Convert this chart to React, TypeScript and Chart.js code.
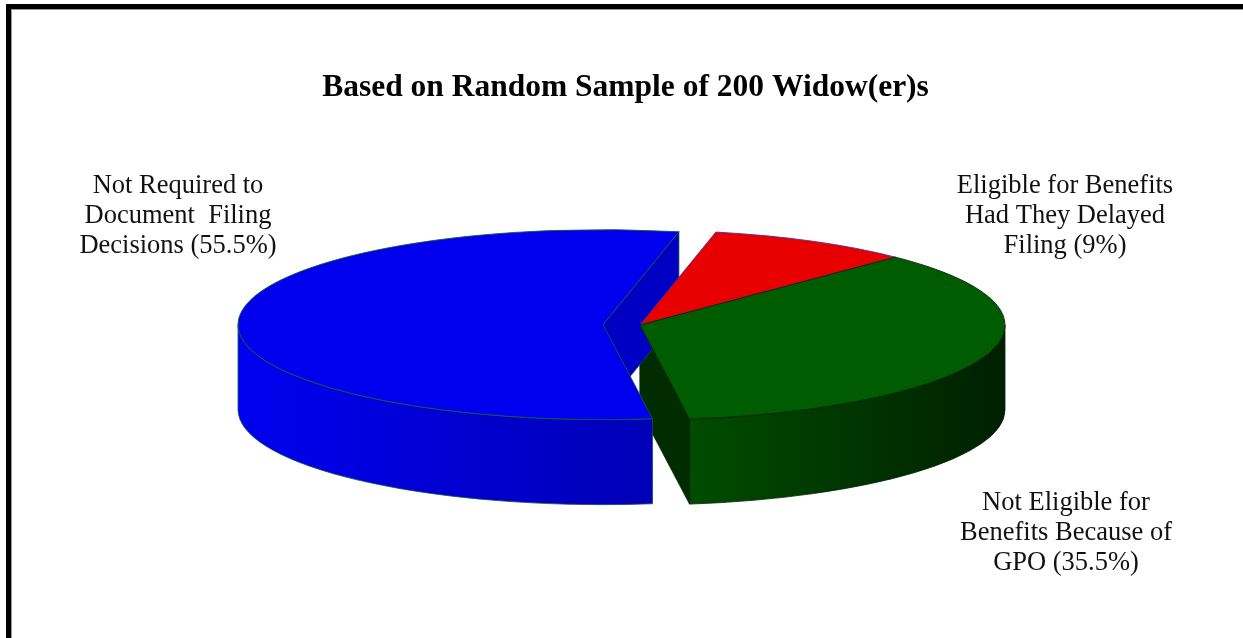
import React, { useEffect, useRef } from "react";
import { Chart, registerables } from "chart.js";

Chart.register(...registerables);

// ---------- data ----------
const categories = [
  "Eligible for Benefits Had They Delayed Filing",
  "Not Eligible for Benefits Because of GPO",
  "Not Required to Document Filing Decisions",
];
const shares = [9, 35.5, 55.5];
const labelLines = [
  ["Eligible for Benefits", "Had They Delayed", "Filing"],
  ["Not Eligible for", "Benefits Because of", "GPO"],
  ["Not Required to", "Document  Filing", "Decisions"],
];
const TITLE = "Based on Random Sample of 200 Widow(er)s";

// ---------- styles ----------
const topColors = ["#e80000", "#005c00", "#0000ee"];
const cutColors = ["#a00000", "#002c00", "#0000c4"];
const sideLight = ["#c00000", "#004c00", "#0000f0"];
const sideDark = ["#800000", "#002000", "#0000b6"];
const edgeColors = ["#5a2a8a", "#0a220a", "#17563c"];
const explode = [0, 0, 37];

// ---------- layout ----------
const PIE_CX = 640;
const PIE_CY = 325;
const RX = 365;
const RY = 95;
const DEPTH = 85;
const LABEL_POS = [
  { x: 1065, y: 193 },
  { x: 1066, y: 510 },
  { x: 178, y: 193 },
];
const LINE_H = 30;
const SERIF = "'Liberation Serif', 'Times New Roman', serif";

function strokeDevice(chart: any, color: string, w: number) {
  const ctx = chart.ctx as CanvasRenderingContext2D;
  const dpr = chart.currentDevicePixelRatio || 1;
  ctx.save();
  ctx.setTransform(dpr, 0, 0, dpr, 0, 0);
  ctx.strokeStyle = color;
  ctx.lineWidth = w;
  ctx.lineJoin = "round";
  ctx.stroke();
  ctx.restore();
}

const pie3d = {
  id: "pie3d",
  beforeDatasetsDraw(chart: any) {
    const meta = chart.getDatasetMeta(0);
    const arcs = meta.data as any[];
    if (!arcs.length) return false;
    const ctx = chart.ctx as CanvasRenderingContext2D;
    const R = arcs[0].outerRadius;
    const x0 = arcs[0].x;
    const y0 = arcs[0].y;
    const sx = RX / R;
    const sy = RY / R;
    const D = DEPTH / sy;
    const geo = arcs.map((a: any, i: number) => {
      const s = a.startAngle;
      const e = a.endAngle;
      const m = (s + e) / 2;
      const off = explode[i] / sx;
      return { a, s, e, i, cx: x0 + Math.cos(m) * off, cy: y0 + Math.sin(m) * off };
    });

    ctx.save();
    ctx.translate(PIE_CX, PIE_CY);
    ctx.scale(sx, sy);
    ctx.translate(-x0, -y0);

    // radial cut faces facing the viewer
    const face = (cx: number, cy: number, ang: number, i: number) => {
      const px = cx + R * Math.cos(ang);
      const py = cy + R * Math.sin(ang);
      ctx.beginPath();
      ctx.moveTo(cx, cy);
      ctx.lineTo(px, py);
      ctx.lineTo(px, py + D);
      ctx.lineTo(cx, cy + D);
      ctx.closePath();
      ctx.fillStyle = cutColors[i];
      ctx.fill();
      strokeDevice(chart, edgeColors[i], 0.8);
    };
    geo.forEach((g) => {
      if (Math.cos(g.s) < 0) face(g.cx, g.cy, g.s, g.i);
      if (Math.cos(g.e) > 0) face(g.cx, g.cy, g.e, g.i);
    });

    // outer curved sides (front half)
    geo.forEach((g) => {
      for (let k = -1; k <= 1; k++) {
        const lo = Math.max(g.s, 2 * Math.PI * k);
        const hi = Math.min(g.e, 2 * Math.PI * k + Math.PI);
        if (hi <= lo) continue;
        ctx.beginPath();
        ctx.arc(g.cx, g.cy, R, lo, hi);
        ctx.lineTo(g.cx + R * Math.cos(hi), g.cy + R * Math.sin(hi) + D);
        ctx.arc(g.cx, g.cy + D, R, hi, lo, true);
        ctx.closePath();
        const xl = g.cx + R * Math.cos(hi);
        const xr = g.cx + R * Math.cos(lo);
        const grad = ctx.createLinearGradient(xl, 0, xr, 0);
        grad.addColorStop(0, sideLight[g.i]);
        grad.addColorStop(1, sideDark[g.i]);
        ctx.fillStyle = grad;
        ctx.fill();
        strokeDevice(chart, edgeColors[g.i], 0.8);
      }
    });

    // top faces, drawn by the library's arc elements
    geo.forEach((g) => {
      ctx.save();
      ctx.translate(g.cx - x0, g.cy - y0);
      g.a.draw(ctx);
      ctx.restore();
      ctx.beginPath();
      ctx.moveTo(g.cx, g.cy);
      ctx.arc(g.cx, g.cy, R, g.s, g.e);
      ctx.closePath();
      strokeDevice(chart, edgeColors[g.i], 0.9);
    });

    ctx.restore();
    return false;
  },
  afterDraw(chart: any) {
    const ctx = chart.ctx as CanvasRenderingContext2D;
    ctx.save();
    ctx.font = `26.5px ${SERIF}`;
    ctx.fillStyle = "#111";
    ctx.textAlign = "center";
    ctx.textBaseline = "alphabetic";
    labelLines.forEach((lines, i) => {
      const pos = LABEL_POS[i];
      lines.forEach((ln, j) => {
        const t = j === lines.length - 1 ? `${ln} (${shares[i]}%)` : ln;
        ctx.fillText(t, pos.x, pos.y + j * LINE_H);
      });
    });
    ctx.restore();
  },
};

export default function App() {
  const ref = useRef<HTMLCanvasElement | null>(null);
  useEffect(() => {
    if (!ref.current) return;
    const chart = new Chart(ref.current, {
      type: "pie",
      data: {
        labels: categories,
        datasets: [
          {
            data: shares,
            backgroundColor: topColors,
            borderWidth: 0,
            radius: 186,
          } as any,
        ],
      },
      options: {
        animation: false,
        responsive: false,
        events: [],
        rotation: 12,
        layout: { padding: { left: 8 } },
        plugins: {
          legend: { display: false },
          tooltip: { enabled: false },
          title: {
            display: true,
            text: TITLE,
            color: "#000",
            font: { family: SERIF, size: 31.5, weight: "bold" },
            padding: { top: 69, bottom: 10 },
          },
        },
      } as any,
      plugins: [pie3d],
    });
    return () => chart.destroy();
  }, []);
  return (
    <div
      style={{
        position: "absolute",
        left: 0,
        top: 0,
        width: 1243,
        height: 638,
        background: "#fff",
        overflow: "hidden",
      }}
    >
      <div
        style={{
          position: "absolute",
          left: 6,
          top: 4,
          right: -20,
          bottom: -20,
          borderLeft: "5px solid #000",
          borderTop: "5px solid #000",
        }}
      >
        <div
          style={{
            position: "absolute",
            left: 0,
            top: 0,
            right: 0,
            bottom: 0,
            borderLeft: "1px solid #999",
            borderTop: "1px solid #999",
          }}
        />
      </div>
      <canvas ref={ref} width={1243} height={638} style={{ position: "absolute", left: 0, top: 0 }} />
    </div>
  );
}
